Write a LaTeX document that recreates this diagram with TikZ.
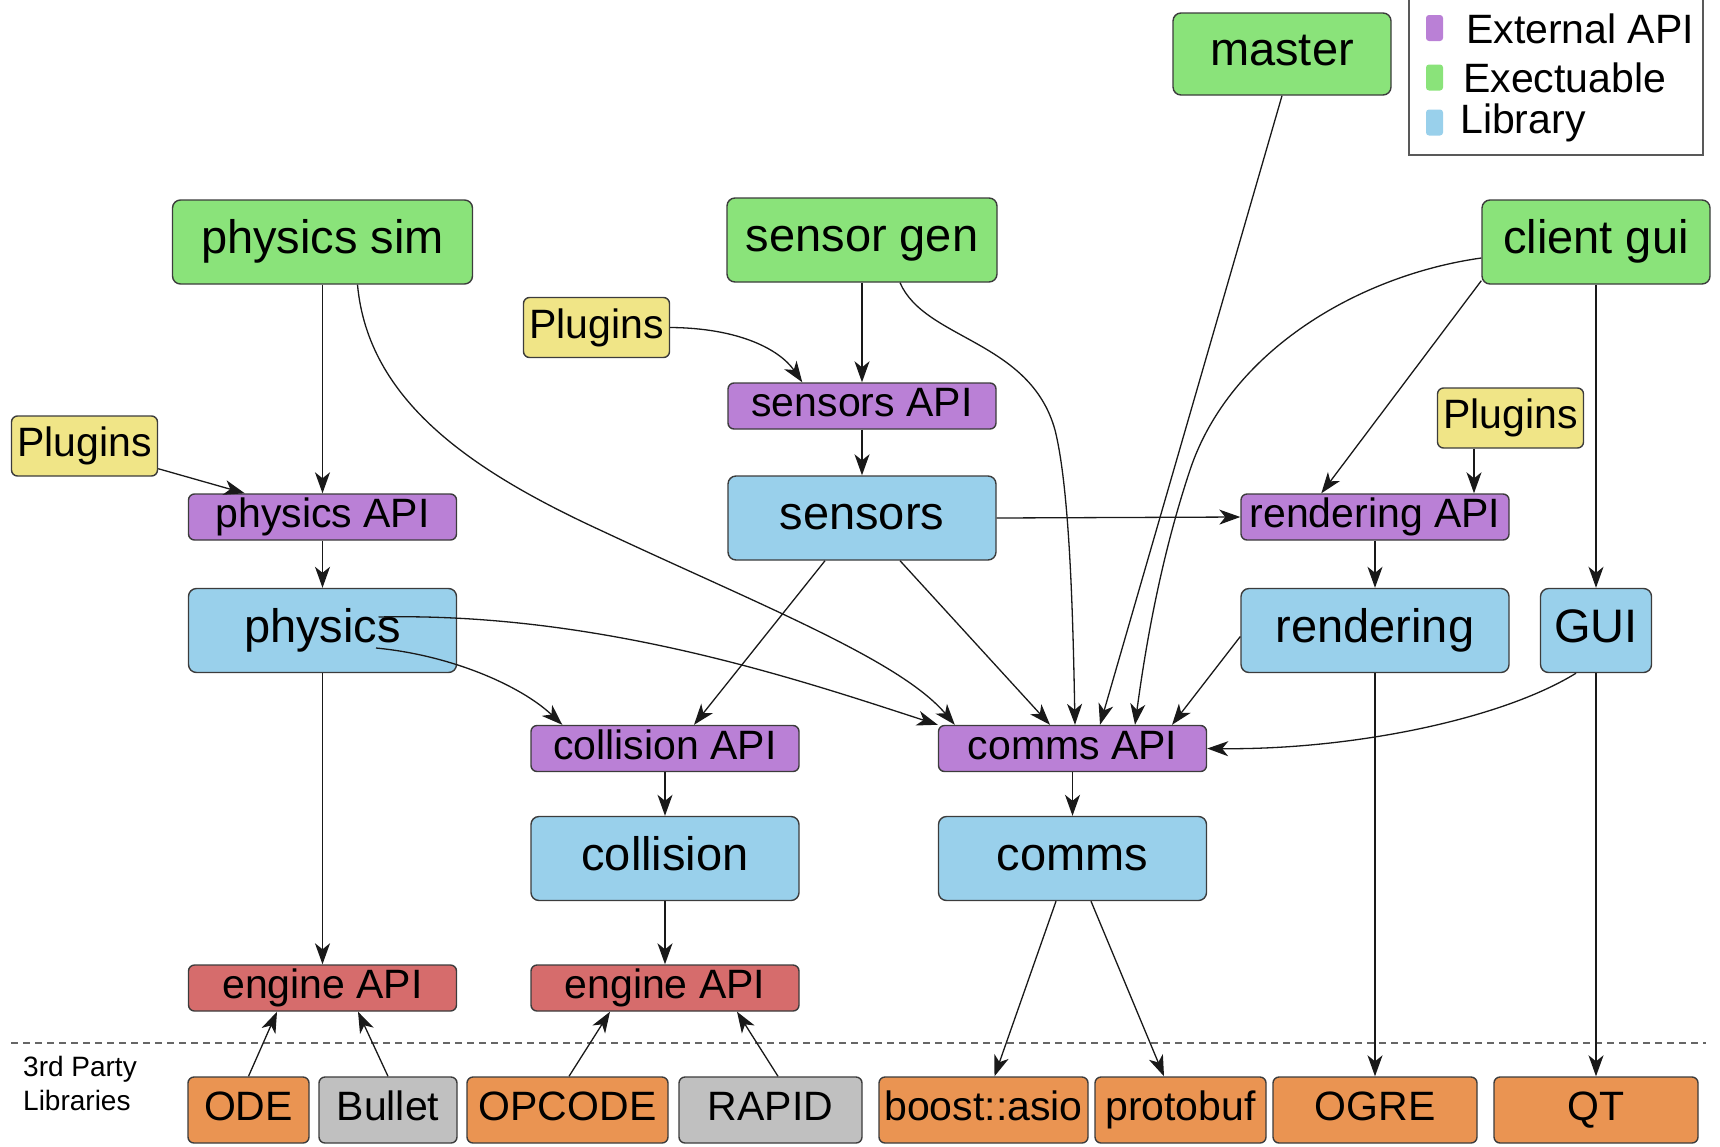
\documentclass[tikz,border=0pt]{standalone}
\usepackage{fontspec}
\setmainfont{Liberation Sans}
\usetikzlibrary{arrows.meta}
\definecolor{cgreen}{RGB}{138,227,122}
\definecolor{cpurple}{RGB}{186,128,214}
\definecolor{cblue}{RGB}{153,208,235}
\definecolor{cyellow}{RGB}{240,229,135}
\definecolor{cred}{RGB}{214,108,108}
\definecolor{corange}{RGB}{234,148,82}
\definecolor{cgray}{RGB}{192,192,192}
\definecolor{cborder}{RGB}{60,60,60}
\begin{document}
\begin{tikzpicture}[x=1pt,y=-1pt,
  box/.style={draw=cborder, line width=1.4pt, rounded corners=8pt, inner sep=0pt, align=center},
  big/.style={box, font=\fontsize{47}{50}\selectfont, minimum height=84pt, text height=35pt, text depth=12pt},
  small/.style={box, font=\fontsize{41}{44}\selectfont, minimum height=46pt, rounded corners=6pt, text height=31pt, text depth=10pt},
  ext/.style={small, fill=cpurple, minimum width=268pt},
  exe/.style={big, fill=cgreen},
  lib/.style={big, fill=cblue, minimum width=268pt},
  plug/.style={small, fill=cyellow, minimum width=146pt, minimum height=60pt},
  eng/.style={small, fill=cred, minimum width=268pt},
  third/.style={small, minimum height=66pt},
  conn/.style={line width=1.3pt, draw=black!90, -{Stealth[length=21pt,width=15pt,inset=6pt]}},
  legtext/.style={anchor=base west, inner sep=0pt, font=\fontsize{41}{44}\selectfont},
  legsq/.style={inner sep=0pt, minimum width=17pt, minimum height=26pt, rounded corners=3pt},
  sidetext/.style={anchor=base west, inner sep=0pt, font=\fontsize{28}{30}\selectfont},
]
\useasboundingbox (0,0) rectangle (1720,1146);

% legend
\node[draw=black!65, line width=1.4pt, minimum width=294pt, minimum height=162pt, inner sep=0pt] (legend) at (1556,74) {};
\node[legsq, fill=cpurple] (lsq1) at (1434.5,28) {};
\node[legsq, fill=cgreen] (lsq2) at (1434.5,77.5) {};
\node[legsq, fill=cblue] (lsq3) at (1434.5,122.5) {};
\node[legtext] (lt1) at (1466,43) {External API};
\node[legtext] (lt2) at (1463,92) {Exectuable};
\node[legtext] (lt3) at (1460,133) {Library};

% executables
\node[exe, minimum width=300pt] (psim) at (322.5,242) {physics sim};
\node[exe, minimum width=270pt] (sgen) at (862,240) {sensor gen};
\node[exe, minimum width=228pt] (cgui) at (1596,242) {client gui};
\node[exe, minimum width=218pt, minimum height=82pt] (master) at (1282,54) {master};

% plugins
\node[plug] (plugL) at (84.5,446) {Plugins};
\node[plug] (plugM) at (596.5,327.5) {Plugins};
\node[plug] (plugR) at (1510.5,418) {Plugins};

% external APIs
\node[ext] (papi) at (322.5,517) {physics API};
\node[ext] (sapi) at (862,406) {sensors API};
\node[ext] (rapi) at (1375,517) {rendering API};
\node[ext] (capi) at (665,748.5) {collision API};
\node[ext] (mapi) at (1072.5,748.5) {comms API};

% libraries
\node[lib] (sens) at (862,518) {sensors};
\node[lib] (phys) at (322.5,630.5) {physics};
\node[lib] (rend) at (1375,630.5) {rendering};
\node[lib, minimum width=111pt] (gui) at (1596,630.5) {GUI};
\node[lib] (coll) at (665,858.5) {collision};
\node[lib] (comms) at (1072.5,858.5) {comms};

% engine APIs
\node[eng] (engL) at (322.5,988) {engine API};
\node[eng] (engM) at (665,988) {engine API};

% third party
\coordinate (dashL) at (11,1043);
\coordinate (dashR) at (1706,1043);
\draw[line width=1.3pt, black!60, dash pattern=on 7pt off 5pt] (dashL) -- (dashR);
\node[sidetext] (tp1) at (23,1076) {3rd Party};
\node[sidetext] (tp2) at (23,1110) {Libraries};

\node[third, fill=corange, minimum width=121pt] (ode) at (248.5,1110) {ODE};
\node[third, fill=cgray, minimum width=138pt] (bullet) at (388,1110) {Bullet};
\node[third, fill=corange, minimum width=201pt] (opcode) at (567.5,1110) {OPCODE};
\node[third, fill=cgray, minimum width=183pt] (rapid) at (770.5,1110) {RAPID};
\node[third, fill=corange, minimum width=209pt] (boost) at (983.5,1110) {boost::asio};
\node[third, fill=corange, minimum width=171pt] (proto) at (1180.5,1110) {protobuf};
\node[third, fill=corange, minimum width=204pt] (ogre) at (1375,1110) {OGRE};
\node[third, fill=corange, minimum width=204pt] (qt) at (1596,1110) {QT};

% connectors
\draw[conn] (psim) -- (papi);
\draw[conn] ([xshift=35pt]psim.south) .. controls (368,400) and (470,470) .. (600,530) .. controls (760,605) and (900,660) .. ([xshift=17pt]mapi.north west);
\draw[conn] ([yshift=8pt]plugL.south east) -- ([xshift=57pt]papi.north west);
\draw[conn] (papi) -- (phys);
\draw[conn] (phys) -- (engL);
\draw[conn] ([xshift=53.5pt,yshift=-17.5pt]phys.center) .. controls (450,655) and (520,685) .. ([xshift=32pt]capi.north west);
\draw[conn] ([xshift=56pt,yshift=13.5pt]phys.center) .. controls (600,612) and (800,680) .. (mapi.north west);

\draw[conn] (sgen) -- (sapi);
\draw[conn] (plugM.east) .. controls (740,328) and (780,350) .. ([xshift=75pt]sapi.north west);
\draw[conn] (sapi) -- (sens);
\draw[conn] ([xshift=-37pt]sens.south) -- ([xshift=29pt]capi.north);
\draw[conn] ([xshift=38pt]sens.south) -- ([xshift=-22.5pt]mapi.north);
\draw[conn] (sens.east) -- (rapi.west);
\draw[conn] ([xshift=38pt]sgen.south) .. controls (925,340) and (1030,340) .. (1055,430) .. controls (1070,490) and (1073,620) .. ([xshift=2.5pt]mapi.north);

\draw[conn] (master.south) -- ([xshift=27.5pt]mapi.north);
\draw[conn] ([yshift=-16pt]cgui.west) .. controls (1360,275) and (1230,350) .. (1190,470) .. controls (1160,560) and (1145,650) .. ([xshift=62.5pt]mapi.north);
\draw[conn] ([yshift=4pt]cgui.south west) -- ([xshift=81pt]rapi.north west);
\draw[conn] ([xshift=-36.5pt]plugR.south) -- ([xshift=-36.5pt]plugR.south |- rapi.north);
\draw[conn] (rapi) -- (rend);
\draw[conn] ([yshift=-6pt]rend.west) -- ([xshift=99.5pt]mapi.north);
\draw[conn] (rend) -- (ogre);
\draw[conn] (cgui) -- (gui);
\draw[conn] (gui) -- (qt);
\draw[conn] ([xshift=-20pt]gui.south) .. controls (1500,720) and (1350,750) .. (mapi.east);

\draw[conn] (capi) -- (coll);
\draw[conn] (coll) -- (engM);
\draw[conn] (mapi) -- (comms);
\draw[conn] ([xshift=-16.5pt]comms.south) -- ([xshift=11pt]boost.north);
\draw[conn] ([xshift=18.5pt]comms.south) -- ([xshift=-16.5pt]proto.north);

\draw[conn] (ode.north) -- ([xshift=-45.5pt]engL.south);
\draw[conn] (bullet.north) -- ([xshift=35.5pt]engL.south);
\draw[conn] ([xshift=1.5pt]opcode.north) -- ([xshift=-55pt]engM.south);
\draw[conn] ([xshift=7.5pt]rapid.north) -- ([xshift=72pt]engM.south);
\end{tikzpicture}
\end{document}
